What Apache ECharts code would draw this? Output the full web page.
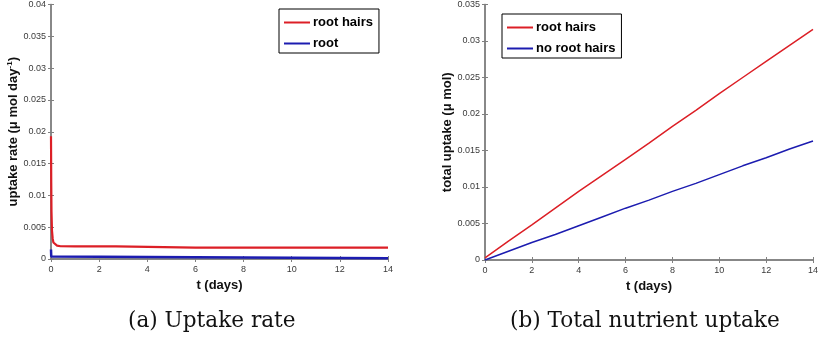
<!DOCTYPE html>
<html>
<head>
<meta charset="utf-8">
<script src="https://cdn.jsdelivr.net/npm/echarts@6/dist/echarts.min.js"></script>
<style>
  html, body { margin: 0; padding: 0; background: #fff; }
  #chart { width: 821px; height: 338px; }
</style>
</head>
<body>
<div id="chart"></div>
<script>
// (a) uptake rate
const rateT = [0, 0.01, 0.02, 0.04, 0.07, 0.1, 0.15, 0.25, 0.4, 1, 2, 2.7, 2.75, 6, 10, 14]
const rateHairs = [0.0193, 0.012, 0.0075, 0.0045, 0.0032, 0.0026, 0.0023, 0.0021, 0.002, 0.00197, 0.00197, 0.00197, 0.0018, 0.0018, 0.0018, 0.0018]
const rootT = [0, 0.01, 0.03, 14]
const rateRoot = [0.0015, 0.0004, 0.0001, 0.0001]

// (b) total uptake
const days = [0, 1, 2, 3, 4, 5, 6, 7, 8, 9, 10, 11, 12, 13, 14]
const totalHairs = [0.0003, 0.0026, 0.0048, 0.0071, 0.0094, 0.0116, 0.0138, 0.016, 0.0183, 0.0205, 0.0228, 0.025, 0.0272, 0.0294, 0.0316]
const totalNoHairs = [0.0, 0.0012, 0.0024, 0.0035, 0.0047, 0.0059, 0.0071, 0.0082, 0.0094, 0.0105, 0.0117, 0.0129, 0.014, 0.0152, 0.0163]

const xTicks = [0, 2, 4, 6, 8, 10, 12, 14]

const RED = '#dc1f26'
const BLUE = '#1c1cb0'
const AXIS = '#808080'
const LABEL = '#3a3a3a'

const pairs = (xs, ys) => xs.map((x, i) => [x, ys[i]])

const xAxisBase = (gridIndex, name) => [
  {
    gridIndex,
    type: 'value',
    min: xTicks[0],
    max: xTicks[xTicks.length - 1],
    interval: 2,
    name,
    nameLocation: 'middle',
    nameGap: 19,
    nameTextStyle: { fontFamily: 'Liberation Sans', fontWeight: 'bold', fontSize: 13, color: '#111' },
    axisLine: { lineStyle: { color: AXIS, width: 1.5 } },
    axisTick: { inside: true, length: 3, lineStyle: { color: AXIS } },
    axisLabel: { fontFamily: 'Liberation Sans', fontSize: 9, color: LABEL, margin: 6 },
    splitLine: { show: false },
  },
  {
    gridIndex,
    type: 'value',
    position: 'top',
    min: 0,
    max: 14,
    interval: 2,
    axisLine: { lineStyle: { color: AXIS, width: 1.5 } },
    axisTick: { inside: true, length: 3, lineStyle: { color: AXIS } },
    axisLabel: { show: false },
    splitLine: { show: false },
  },
]

const yAxisBase = (gridIndex, max, name, nameGap, rich) => [
  {
    gridIndex,
    type: 'value',
    min: 0,
    max,
    interval: 0.005,
    name,
    nameLocation: 'middle',
    nameGap,
    nameRotate: 90,
    nameTextStyle: {
      fontFamily: 'Liberation Sans', fontWeight: 'bold', fontSize: 13, color: '#111',
      rich,
    },
    axisLine: { lineStyle: { color: AXIS, width: 1.5 } },
    axisTick: { inside: true, length: 3, lineStyle: { color: AXIS } },
    axisLabel: { fontFamily: 'Liberation Sans', fontSize: 9, color: LABEL, margin: 5 },
    splitLine: { show: false },
  },
  {
    gridIndex,
    type: 'value',
    position: 'right',
    min: 0,
    max,
    interval: 0.005,
    axisLine: { lineStyle: { color: AXIS, width: 1.5 } },
    axisTick: { inside: true, length: 3, lineStyle: { color: AXIS } },
    axisLabel: { show: false },
    splitLine: { show: false },
  },
]

const legendBase = (left, top, names) => ({
  data: names,
  left,
  top,
  orient: 'vertical',
  icon: 'rect',
  itemWidth: 26,
  itemHeight: 2,
  itemGap: 8,
  padding: [7, 6, 3, 5],
  backgroundColor: '#fff',
  borderColor: '#000',
  borderWidth: 1,
  borderRadius: 0,
  textStyle: { fontFamily: 'Liberation Sans', fontWeight: 'bold', fontSize: 13, color: '#000', padding: [0, 0, 0, -2] },
})

const chart = echarts.init(document.getElementById('chart'))
chart.setOption({
  backgroundColor: '#fff',
  animation: false,
  grid: [
    { left: 51, top: 4, width: 337, height: 255 },
    { left: 485, top: 4, width: 338, height: 256 },
  ],
  xAxis: [...xAxisBase(0, 't (days)'), ...xAxisBase(1, 't (days)')],
  yAxis: [
    ...yAxisBase(0, 0.04, 'uptake rate (μ mol day{sup|-1})', 28, {
      sup: { fontFamily: 'Liberation Sans', fontWeight: 'bold', fontSize: 8, color: '#111', verticalAlign: 'top', padding: [0, 0, 6, 0] },
    }),
    ...yAxisBase(1, 0.035, 'total uptake (μ mol)', 28),
  ],
  legend: [
    legendBase(279, 9, ['root hairs', 'root']),
    legendBase(502, 14, ['root hairs', 'no root hairs']),
  ],
  series: [
    {
      name: 'root hairs', type: 'line', xAxisIndex: 0, yAxisIndex: 0,
      data: pairs(rateT, rateHairs), showSymbol: false,
      lineStyle: { color: RED, width: 2.2 }, itemStyle: { color: RED },
    },
    {
      name: 'root', type: 'line', xAxisIndex: 0, yAxisIndex: 0,
      data: pairs(rootT, rateRoot), showSymbol: false,
      lineStyle: { color: BLUE, width: 2.5 }, itemStyle: { color: BLUE },
    },
    {
      name: 'root hairs', type: 'line', xAxisIndex: 2, yAxisIndex: 2,
      data: pairs(days, totalHairs), showSymbol: false,
      lineStyle: { color: RED, width: 1.5 }, itemStyle: { color: RED },
    },
    {
      name: 'no root hairs', type: 'line', xAxisIndex: 2, yAxisIndex: 2,
      data: pairs(days, totalNoHairs), showSymbol: false,
      lineStyle: { color: BLUE, width: 1.5 }, itemStyle: { color: BLUE },
    },
  ],
  graphic: [
    {
      type: 'text', left: 128, top: 310,
      style: { text: '(a) Uptake rate', font: '21.6px "DejaVu Serif"', fill: '#111' },
    },
    {
      type: 'text', left: 510, top: 310,
      style: { text: '(b) Total nutrient uptake', font: '21.6px "DejaVu Serif"', fill: '#111' },
    },
  ],
})
</script>
</body>
</html>
